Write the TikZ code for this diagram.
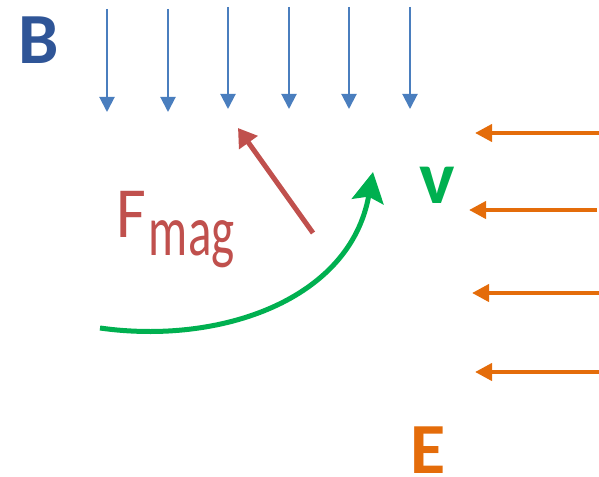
\documentclass[tikz,border=0pt]{standalone}
\usepackage{fontspec}
\setmainfont{Carlito}
\usepackage{tikz}
\usetikzlibrary{arrows.meta}
\definecolor{fieldblue}{RGB}{74,126,190}
\definecolor{labelblue}{RGB}{47,85,151}
\definecolor{forcered}{RGB}{192,80,77}
\definecolor{velgreen}{RGB}{0,176,80}
\definecolor{eorange}{RGB}{228,108,10}
\tikzset{
  bline/.style={draw=fieldblue, line width=2pt, -{Triangle[length=15pt,width=15pt]}},
  eline/.style={draw=eorange, line width=4pt, -{Triangle[length=17pt,width=17pt]}},
  forcearrow/.style={draw=forcered, line width=5pt, -{Triangle[length=18pt,width=22pt]}},
  velarrow/.style={draw=velgreen, line width=5pt, -{Stealth[length=30pt,width=32pt,inset=5pt]}},
  biglabel/.style={inner sep=0pt, anchor=base, font=\fontsize{72}{80}\selectfont},
}

\begin{document}
\begin{tikzpicture}[x=1pt, y=-1pt]
  \useasboundingbox (0,0) rectangle (599,476);

  % Magnetic field
  \foreach \x/\top/\bot [count=\i] in {107/9/112, 168/9/112, 228/7/109, 289/7/109, 349/7/109, 410/7/109} {
    \coordinate (b\i top) at (\x,\top);
    \coordinate (b\i bot) at (\x,\bot);
    \draw[bline] (b\i top) -- (b\i bot);
  }
  \node[biglabel, text=labelblue, font=\fontsize{72}{80}\selectfont\bfseries] (Blabel) at (39,64) {B};

  % Electric field
  \foreach \y/\tip/\rt [count=\i] in {133/475/599, 210/469/597, 293/472/599, 372/475/599} {
    \coordinate (e\i start) at (\rt,\y);
    \coordinate (e\i end) at (\tip,\y);
    \draw[eline] (e\i start) -- (e\i end);
  }
  \node[biglabel, text=eorange, font=\fontsize{72}{80}\selectfont\bfseries] (Elabel) at (428,473) {E};

  % Velocity
  \coordinate (vstart) at (100,328);
  \coordinate (vend) at (373,172);
  \draw[velarrow] (vstart) .. controls (220,345) and (350,300) .. (vend);
  \node[biglabel, text=velgreen, font=\fontsize{75}{80}\selectfont\bfseries] (vlabel) at (437,203) {v};

  % Magnetic force
  \coordinate (fstart) at (313,233);
  \coordinate (fend) at (238,128);
  \draw[forcearrow] (fstart) -- (fend);
  \node[biglabel, anchor=base west, text=forcered] (Flabel) at (116,237)
    {\scalebox{0.9}[1]{F}\kern3pt\lower18pt\hbox{\scalebox{0.68}[1]{mag}}};
\end{tikzpicture}
\end{document}
